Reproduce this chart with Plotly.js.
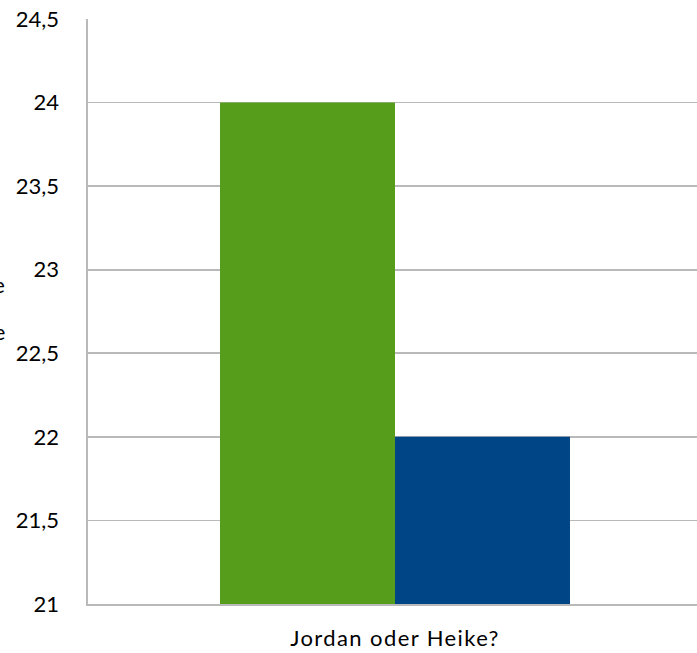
<!DOCTYPE html>
<html>
<head>
<meta charset="utf-8">
<script src="https://cdn.plot.ly/plotly-3.0.1.min.js"></script>
<style>
  html, body { margin: 0; padding: 0; overflow: hidden; background: #ffffff; }
  #chart { width: 702px; height: 653px; }
  /* slightly tracked category label */
  #chart .xtick text { letter-spacing: 1.4px; }
</style>
</head>
<body>
<div id="chart"></div>
<script>
// Umfrage: Jordan oder Heike?
const categories = ["Jordan oder Heike?"];
const seriesNames = ["Jordan", "Heike"];
const jordanValues = [24];
const heikeValues = [22];
const seriesColors = ["#579d1c", "#004586"];
const sideLabels = ["Durchschnittliche", "Punkte"];

const traces = [
  { type: "bar", name: seriesNames[0], x: categories, y: jordanValues,
    marker: { color: seriesColors[0] }, hoverinfo: "none" },
  { type: "bar", name: seriesNames[1], x: categories, y: heikeValues,
    marker: { color: seriesColors[1] }, hoverinfo: "none" }
];

const gridColor = "#b9b9b9";
const font = { family: "Lato, 'Open Sans', sans-serif", size: 22, color: "#000000" };

const layout = {
  width: 702,
  height: 653,
  margin: { l: 88, r: 0, t: 19, b: 49, pad: 0 },
  separators: ",.",
  paper_bgcolor: "#ffffff",
  plot_bgcolor: "#ffffff",
  showlegend: false,
  barmode: "group",
  bargap: 0.43,
  bargroupgap: 0,
  font: font,
  xaxis: {
    type: "category",
    showgrid: false,
    showline: true,
    linecolor: gridColor,
    linewidth: 1.6,
    ticks: "",
    ticklabelstandoff: 14,
    tickfont: { family: font.family, size: 22, color: "#000000" },
    zeroline: false,
    fixedrange: true
  },
  yaxis: {
    range: [21, 24.5],
    dtick: 0.5,
    tick0: 21,
    showgrid: true,
    gridcolor: gridColor,
    gridwidth: 1.6,
    showline: true,
    linecolor: gridColor,
    linewidth: 1.6,
    ticks: "",
    ticklabelstandoff: 23,
    tickfont: { family: font.family, size: 22, color: "#000000" },
    zeroline: false,
    fixedrange: true
  },
  annotations: [
    { xref: "paper", yref: "paper", x: -81 / 614, y: 0.546, xanchor: "right", yanchor: "middle",
      text: sideLabels[0], showarrow: false, font: { family: font.family, size: 22, color: "#000000" } },
    { xref: "paper", yref: "paper", x: -81 / 614, y: 0.466, xanchor: "right", yanchor: "middle",
      text: sideLabels[1], showarrow: false, font: { family: font.family, size: 22, color: "#000000" } }
  ]
};

Plotly.newPlot("chart", traces, layout, { displayModeBar: false, staticPlot: true });
</script>
</body>
</html>
